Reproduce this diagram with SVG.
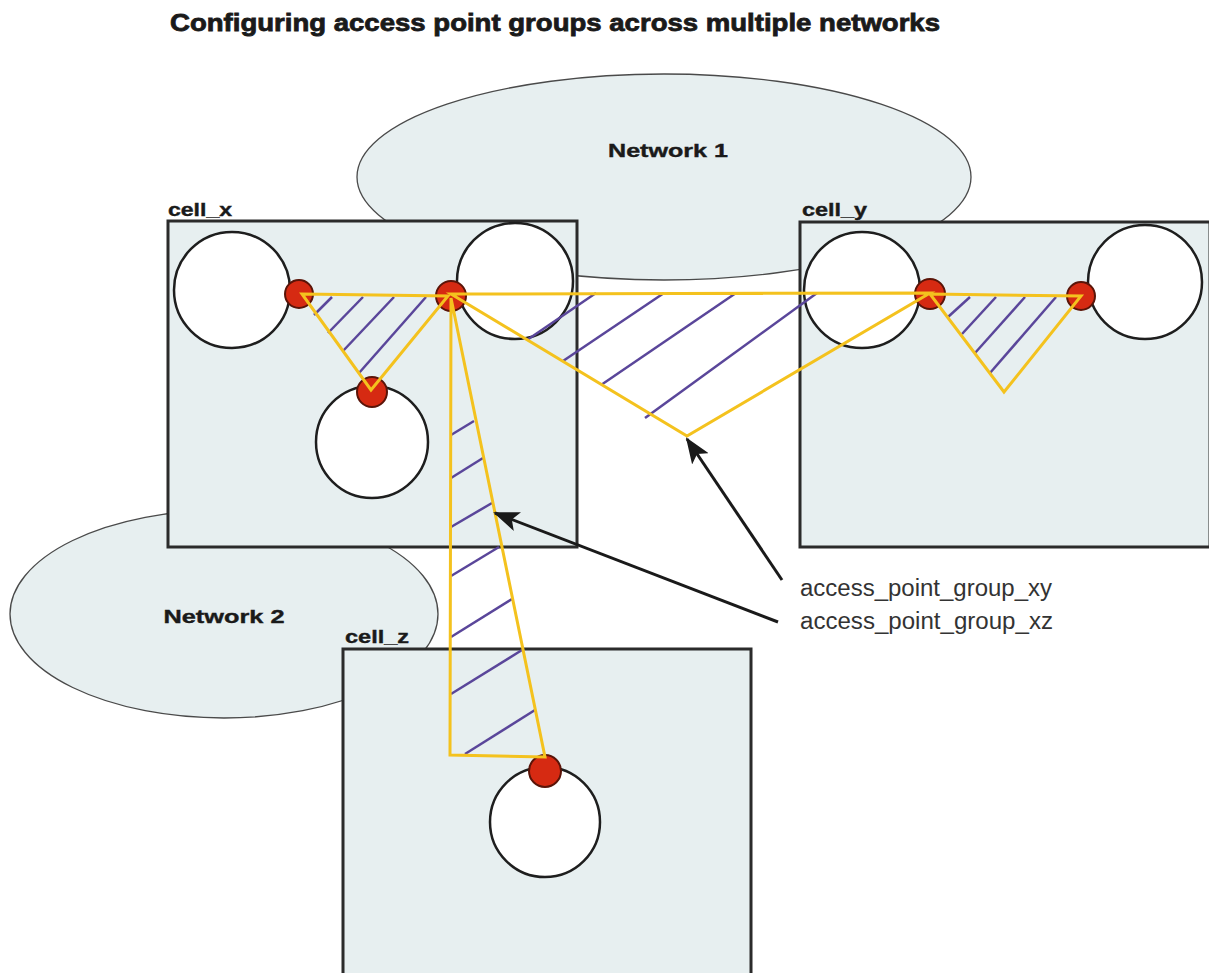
<svg xmlns="http://www.w3.org/2000/svg" width="1209" height="973" viewBox="0 0 1209 973">
<style>
.bg{fill:#ffffff}
.net{fill:#e7eff0;stroke:#4a4a4a;stroke-width:1.3}
.cell{fill:#e7eff0;stroke:#2b2b2b;stroke-width:3}
.ap{fill:#ffffff;stroke:#1e1e1e;stroke-width:2.5}
.dot{fill:#d62a12;stroke:#5a1408;stroke-width:2}
.grp{fill:none;stroke:#f4c21e;stroke-width:3;stroke-linejoin:miter}
.hatch{stroke:#5a469a;stroke-width:2.5;fill:none}
.arrow{stroke:#1a1a1a;stroke-width:3;fill:none}
.title{font-family:"Liberation Sans",Arial,sans-serif;font-weight:bold;font-size:24px;fill:#1a1a1a;stroke:#1a1a1a;stroke-width:0.8}
.lbl{font-family:"Liberation Sans",Arial,sans-serif;font-weight:bold;font-size:19px;fill:#1a1a1a;stroke:#1a1a1a;stroke-width:0.4}
.note{font-family:"Liberation Sans",Arial,sans-serif;font-size:23px;fill:#333333}
</style>
<defs>
<marker id="ah" markerUnits="userSpaceOnUse" markerWidth="26" markerHeight="20" refX="24" refY="10" orient="auto">
<path d="M0,0 L26,10 L0,20 L6,10 Z" fill="#1a1a1a"/>
</marker>
</defs>
<rect class="bg" x="0" y="0" width="1209" height="973"/>
<text class="title" x="170" y="31" textLength="770" lengthAdjust="spacingAndGlyphs">Configuring access point groups across multiple networks</text>

<g id="network1">
<ellipse class="net" cx="664" cy="177" rx="307" ry="103"/>
<text class="lbl" x="668" y="157" text-anchor="middle" textLength="120" lengthAdjust="spacingAndGlyphs">Network 1</text>
</g>
<g id="network2">
<ellipse class="net" cx="224" cy="614" rx="214" ry="104"/>
<text class="lbl" x="224" y="623" text-anchor="middle" textLength="121" lengthAdjust="spacingAndGlyphs">Network 2</text>
</g>

<g id="cell_x">
<rect class="cell" x="168" y="221" width="409" height="326"/>
<text class="lbl" x="168" y="216" textLength="64" lengthAdjust="spacingAndGlyphs">cell_x</text>
<circle class="ap" cx="232" cy="290" r="58"/>
<circle class="ap" cx="515" cy="281" r="58"/>
<circle class="ap" cx="372" cy="442" r="56"/>
</g>
<g id="cell_y">
<rect class="cell" x="800" y="222" width="410" height="325"/>
<text class="lbl" x="802" y="216" textLength="65" lengthAdjust="spacingAndGlyphs">cell_y</text>
<circle class="ap" cx="862" cy="290" r="58"/>
<circle class="ap" cx="1145" cy="282" r="57"/>
</g>
<g id="cell_z">
<rect class="cell" x="343" y="649" width="408" height="330"/>
<text class="lbl" x="345" y="643" textLength="64" lengthAdjust="spacingAndGlyphs">cell_z</text>
<circle class="ap" cx="545" cy="822" r="55"/>
</g>

<g id="access_points">
<circle class="dot" cx="299" cy="294" r="14"/>
<circle class="dot" cx="451" cy="296" r="15"/>
<circle class="dot" cx="372" cy="392" r="15"/>
<circle class="dot" cx="930" cy="294" r="15"/>
<circle class="dot" cx="1081" cy="296" r="14"/>
<circle class="dot" cx="545" cy="771" r="16"/>
</g>

<g id="access_point_group_xx">
<line class="hatch" x1="314" y1="315" x2="332" y2="297"/>
<line class="hatch" x1="328" y1="333" x2="363" y2="297"/>
<line class="hatch" x1="343" y1="351" x2="394" y2="297"/>
<line class="hatch" x1="359" y1="373" x2="426" y2="297"/>
<polygon class="grp" points="302,294 448,296 371,390"/>
</g>
<g id="access_point_group_xy">
<line class="hatch" x1="527" y1="340" x2="596" y2="293"/>
<line class="hatch" x1="563" y1="361" x2="664" y2="293"/>
<line class="hatch" x1="601" y1="385" x2="736" y2="293"/>
<line class="hatch" x1="645" y1="418" x2="817" y2="293"/>
<polygon class="grp" points="451,294 930,293 687,436"/>
</g>
<g id="access_point_group_yy">
<line class="hatch" x1="948" y1="317" x2="970" y2="297"/>
<line class="hatch" x1="962" y1="334" x2="996" y2="297"/>
<line class="hatch" x1="975" y1="353" x2="1025" y2="297"/>
<line class="hatch" x1="990" y1="373" x2="1056" y2="297"/>
<polygon class="grp" points="930,294 1081,296 1004,392"/>
</g>
<g id="access_point_group_xz">
<line class="hatch" x1="451" y1="435" x2="474" y2="421"/>
<line class="hatch" x1="451" y1="478" x2="483" y2="458"/>
<line class="hatch" x1="451" y1="527" x2="492" y2="503"/>
<line class="hatch" x1="451" y1="576" x2="499" y2="547"/>
<line class="hatch" x1="451" y1="637" x2="512" y2="599"/>
<line class="hatch" x1="451" y1="694" x2="522" y2="650"/>
<line class="hatch" x1="465" y1="754" x2="535" y2="710"/>
<polygon class="grp" points="451,298 545,757 450,755"/>
</g>

<g id="connectors">
<line class="arrow" x1="782" y1="580" x2="687" y2="439" marker-end="url(#ah)"/>
<line class="arrow" x1="778" y1="622" x2="495" y2="513" marker-end="url(#ah)"/>
</g>
<g id="labels">
<text class="note" x="800" y="596" textLength="252" lengthAdjust="spacingAndGlyphs">access_point_group_xy</text>
<text class="note" x="800" y="629" textLength="253" lengthAdjust="spacingAndGlyphs">access_point_group_xz</text>
</g>
</svg>
